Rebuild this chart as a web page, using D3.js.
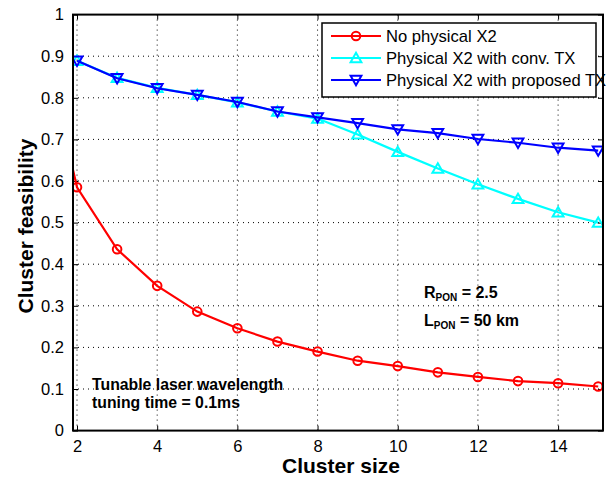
<!DOCTYPE html>
<html>
<head>
<meta charset="utf-8">
<script src="https://cdn.jsdelivr.net/npm/d3@7"></script>
<style>
  body { margin: 0; background: #fff; }
  text { font-family: "Liberation Sans", Arial, Helvetica, sans-serif; }
</style>
</head>
<body>
<svg width="612" height="477"></svg>
<script>
// data
var sizeRed = [1, 2, 3, 4, 5, 6, 7, 8, 9, 10, 11, 12, 13, 14, 15];
var noX2 = [1.0, 0.585, 0.436, 0.348, 0.286, 0.246, 0.214, 0.190, 0.168, 0.155, 0.140, 0.129, 0.119, 0.114, 0.106];

var size = [2, 3, 4, 5, 6, 7, 8, 9, 10, 11, 12, 13, 14, 15];
var convTX = [0.889, 0.848, 0.824, 0.807, 0.789, 0.767, 0.750, 0.712, 0.670, 0.630, 0.592, 0.557, 0.525, 0.500];
var proposedTX = [0.889, 0.847, 0.823, 0.807, 0.790, 0.767, 0.753, 0.739, 0.724, 0.715, 0.701, 0.692, 0.680, 0.673];

var xTicks = [2, 4, 6, 8, 10, 12, 14];
var yTicks = [0, 0.1, 0.2, 0.3, 0.4, 0.5, 0.6, 0.7, 0.8, 0.9, 1];

var legendNames = ["No physical X2", "Physical X2 with conv. TX", "Physical X2 with proposed TX"];

var svg = d3.select("svg"),
    margin = {top: 14.6, right: 9, bottom: 46.4, left: 73},
    width = +svg.attr("width") - margin.left - margin.right,
    height = +svg.attr("height") - margin.top - margin.bottom,
    g = svg.append("g").attr("transform", "translate(" + margin.left + "," + margin.top + ")");

var x = d3.scaleLinear().domain([1.9, 15.12]).range([0, width]);
var y = d3.scaleLinear().domain([0, 1]).range([height, 0]);

// clip
svg.append("defs").append("clipPath").attr("id", "clip")
  .append("rect").attr("width", width).attr("height", height);

// grid
var grid = g.append("g").attr("stroke", "#000").attr("stroke-width", 1).attr("stroke-dasharray", "1,4");
grid.selectAll(".gx").data(xTicks).enter().append("line")
  .attr("x1", function(d) { return x(d); }).attr("x2", function(d) { return x(d); })
  .attr("y1", 0).attr("y2", height);
grid.selectAll(".gy").data(yTicks.slice(1, -1)).enter().append("line")
  .attr("y1", function(d) { return y(d); }).attr("y2", function(d) { return y(d); })
  .attr("x1", 0).attr("x2", width);

// axes with inward ticks
var xAxis = g.append("g").attr("transform", "translate(0," + height + ")")
  .call(d3.axisBottom(x).tickValues(xTicks).tickSizeInner(-5).tickSizeOuter(0).tickPadding(10));
var xTop = g.append("g")
  .call(d3.axisTop(x).tickValues(xTicks).tickSizeInner(-5).tickSizeOuter(0).tickFormat(""));
var yAxis = g.append("g")
  .call(d3.axisLeft(y).tickValues(yTicks).tickSizeInner(-5).tickSizeOuter(0).tickPadding(9)
    .tickFormat(function(d) { return d3.format("")(+d.toFixed(1)); }));
var yRight = g.append("g").attr("transform", "translate(" + width + ",0)")
  .call(d3.axisRight(y).tickValues(yTicks).tickSizeInner(-5).tickSizeOuter(0).tickFormat(""));

[xAxis, xTop, yAxis, yRight].forEach(function(a) {
  a.select(".domain").remove();
  a.selectAll("line").attr("stroke", "#000").attr("stroke-width", 1);
  a.selectAll("text").attr("font-size", 16.5).attr("fill", "#000")
    .style("font-family", "'Liberation Sans', Arial, sans-serif");
});

// series
var series = [
  {name: legendNames[0], xs: sizeRed, ys: noX2, color: "#ff0000", marker: "circle"},
  {name: legendNames[1], xs: size, ys: convTX, color: "#00ffff", marker: "up"},
  {name: legendNames[2], xs: size, ys: proposedTX, color: "#0000ff", marker: "down"}
];

function markerPath(type) {
  if (type === "up") return "M0,-5.2L5.4,4.2L-5.4,4.2Z";
  if (type === "down") return "M0,5.2L5.4,-4.2L-5.4,-4.2Z";
  return d3.symbol().type(d3.symbolCircle).size(58)();
}

var plot = g.append("g").attr("clip-path", "url(#clip)");
var line = d3.line()
  .x(function(d) { return x(d[0]); })
  .y(function(d) { return y(d[1]); });

series.forEach(function(s) {
  var pts = s.xs.map(function(v, i) { return [v, s.ys[i]]; });
  plot.append("path").datum(pts)
    .attr("fill", "none").attr("stroke", s.color).attr("stroke-width", 2.2)
    .attr("d", line);
  plot.selectAll(null).data(pts).enter().append("path")
    .attr("transform", function(d) { return "translate(" + x(d[0]) + "," + y(d[1]) + ")"; })
    .attr("d", markerPath(s.marker))
    .attr("fill", "none").attr("stroke", s.color).attr("stroke-width", 2);
});

// frame
g.append("rect").attr("width", width).attr("height", height)
  .attr("fill", "none").attr("stroke", "#000").attr("stroke-width", 2);

// legend
var lg = svg.append("g");
lg.append("rect").attr("x", 322).attr("y", 23).attr("width", 274).attr("height", 74)
  .attr("fill", "#fff").attr("stroke", "#000").attr("stroke-width", 1.5);
var items = lg.selectAll(".item").data(series).enter().append("g")
  .attr("transform", function(d, i) { return "translate(0," + (36 + i * 22) + ")"; });
items.append("line").attr("x1", 331).attr("x2", 381)
  .attr("stroke", function(d) { return d.color; }).attr("stroke-width", 2.2);
items.append("path").attr("transform", "translate(356,0)")
  .attr("d", function(d) { return markerPath(d.marker); })
  .attr("fill", "none").attr("stroke", function(d) { return d.color; }).attr("stroke-width", 2);
items.append("text").attr("x", 386).attr("dy", "0.35em").attr("font-size", 16.6)
  .text(function(d) { return d.name; });

// axis labels
svg.append("text").attr("x", margin.left + width / 2 + 3).attr("y", 473)
  .attr("text-anchor", "middle").attr("font-size", 21).attr("font-weight", "bold")
  .text("Cluster size");
svg.append("text").attr("transform", "translate(33,226) rotate(-90)")
  .attr("text-anchor", "middle").attr("font-size", 21).attr("font-weight", "bold")
  .text("Cluster feasibility");

// annotations
function subLabel(xp, yp, main, sub, rest) {
  var t = svg.append("text").attr("x", xp).attr("y", yp).attr("font-size", 16).attr("font-weight", "bold");
  t.append("tspan").text(main);
  t.append("tspan").attr("font-size", 10).attr("dy", 3).text(sub);
  t.append("tspan").attr("dy", -3).text(rest);
}
subLabel(424, 298, "R", "PON", " = 2.5");
subLabel(424, 326, "L", "PON", " = 50 km");

svg.append("text").attr("x", 92).attr("y", 390).attr("font-size", 15.8).attr("font-weight", "bold")
  .text("Tunable laser wavelength");
svg.append("text").attr("x", 92).attr("y", 408).attr("font-size", 15.8).attr("font-weight", "bold")
  .text("tuning time = 0.1ms");
</script>
</body>
</html>
